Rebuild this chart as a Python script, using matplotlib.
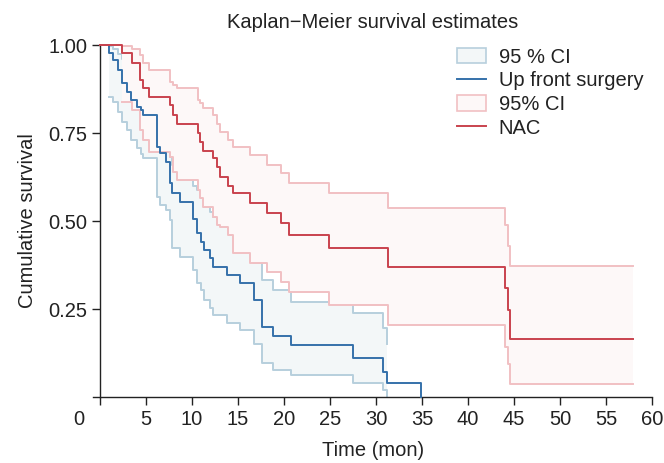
import matplotlib.pyplot as plt
from matplotlib.patches import Patch
from matplotlib.lines import Line2D
from matplotlib.transforms import ScaledTranslation

plt.rcParams['font.family'] = ['Liberation Sans', 'DejaVu Sans']

# Up front surgery: event times, estimate and 95% CI
uf_t = [1.0, 1.4, 2.0, 2.4, 2.9, 3.4, 4.0, 4.5, 4.7, 6.2, 6.5, 7.2, 7.6, 7.8, 8.7,
        10.1, 10.5, 11.0, 11.3, 12.0, 12.3, 13.8, 15.2, 16.7, 17.6, 18.8, 20.8,
        27.5, 30.8, 31.2]
uf_s = [0.976, 0.957, 0.929, 0.891, 0.867, 0.844, 0.825, 0.815, 0.801, 0.711,
        0.693, 0.668, 0.608, 0.579, 0.555, 0.507, 0.465, 0.441, 0.418, 0.394,
        0.370, 0.347, 0.323, 0.276, 0.200, 0.173, 0.148, 0.110, 0.072, 0.039]
uf_lo = [0.853, 0.839, 0.810, 0.782, 0.759, 0.730, 0.706, 0.690, 0.678, 0.567,
         0.545, 0.531, 0.503, 0.422, 0.399, 0.361, 0.323, 0.304, 0.276, 0.252,
         0.233, 0.209, 0.190, 0.152, 0.096, 0.077, 0.0625, 0.039, 0.020, 0.0]
uf_hi = [0.998, 0.990, 0.975, 0.960, 0.950, 0.945, 0.930, 0.900, 0.877, 0.853,
         0.853, 0.853, 0.683, 0.660, 0.616, 0.600, 0.588, 0.565, 0.541, 0.525,
         0.512, 0.488, 0.460, 0.380, 0.332, 0.304, 0.271, 0.238, 0.195, 0.152]
uf_end = 34.9

# NAC: event times, estimate and 95% CI
nac_t = [2.43, 3.44, 4.35, 4.71, 5.36, 7.6, 7.9, 8.4, 10.7, 10.9, 11.2, 12.3, 12.7,
         13.0, 13.9, 14.5, 16.3, 18.1, 19.7, 20.5, 24.9, 31.3, 44.0, 44.3, 44.6]
nac_s = [0.976, 0.950, 0.900, 0.877, 0.853, 0.830, 0.801, 0.777, 0.749, 0.725,
         0.699, 0.678, 0.654, 0.626, 0.600, 0.579, 0.550, 0.522, 0.493, 0.460,
         0.422, 0.370, 0.309, 0.247, 0.165]
nac_lo = [0.839, 0.815, 0.759, 0.730, 0.697, 0.683, 0.640, 0.616, 0.588, 0.565,
          0.541, 0.512, 0.490, 0.484, 0.460, 0.408, 0.380, 0.356, 0.328, 0.299,
          0.261, 0.205, 0.143, 0.094, 0.037]
nac_hi = [0.997, 0.990, 0.972, 0.948, 0.929, 0.896, 0.885, 0.877, 0.844, 0.835,
          0.820, 0.801, 0.777, 0.754, 0.730, 0.711, 0.688, 0.659, 0.635, 0.607,
          0.579, 0.536, 0.490, 0.430, 0.372]
nac_end = 57.9

x_ticks = list(range(0, 61, 5))
y_ticks = [0.25, 0.50, 0.75, 1.00]

blue = '#3571aa'
blue_ci = '#b7cfdd'
blue_fill = '#f3f7f8'
red = '#c9434e'
red_ci = '#f1c0c3'
red_fill = '#fdf8f8'
fs = 14.5

fig = plt.figure(figsize=(6.64, 4.63), dpi=100)
ax = fig.add_axes([0.1402, 0.1425, 0.8418, 0.7603])

# confidence bands
ax.fill_between(uf_t, uf_lo, uf_hi, step='post', color=blue_fill, lw=0, zorder=1)
ax.step(uf_t, uf_lo, where='post', color=blue_ci, lw=1.4, zorder=2)
ax.step(uf_t, uf_hi, where='post', color=blue_ci, lw=1.4, zorder=2)

rt = nac_t + [nac_end]
ax.fill_between(rt, nac_lo + nac_lo[-1:], nac_hi + nac_hi[-1:], step='post',
                color=red_fill, lw=0, zorder=3)
ax.step(rt, nac_lo + nac_lo[-1:], where='post', color=red_ci, lw=1.4, zorder=4)
ax.step(rt, nac_hi + nac_hi[-1:], where='post', color=red_ci, lw=1.4, zorder=4)

# survival estimates
ax.step([0] + uf_t + [uf_end], [1.0] + uf_s + [0.0], where='post',
        color=blue, lw=1.4, zorder=5, clip_on=False)
ax.step([0] + rt, [1.0] + nac_s + nac_s[-1:], where='post',
        color=red, lw=1.4, zorder=6, clip_on=False)

ax.set_xlim(-0.75, 60)
ax.set_ylim(0, 1)
ax.spines['top'].set_visible(False)
ax.spines['right'].set_visible(False)
ax.spines['left'].set_position(('data', 0))
for sp in ('left', 'bottom'):
    ax.spines[sp].set_linewidth(1.0)
    ax.spines[sp].set_color('#222222')

ax.set_xticks(x_ticks)
ax.set_yticks(y_ticks)
ax.set_yticklabels(['%.2f' % v for v in y_ticks])
ax.tick_params(axis='both', labelsize=fs, length=6, width=1.0, color='#222222',
               labelcolor='#222222', pad=3)
# Stata pushes the 0 label to the left of the axis
lab0 = ax.get_xticklabels()[0]
lab0.set_transform(lab0.get_transform() + ScaledTranslation(-0.21, 0, fig.dpi_scale_trans))

ax.set_xlabel('Time (mon)', fontsize=fs, color='#222222', labelpad=9)
ax.set_ylabel('Cumulative survival', fontsize=fs, color='#222222', labelpad=8)
ax.set_title('Kaplan\u2212Meier survival estimates', fontsize=fs, color='#222222', pad=12)

handles = [Patch(facecolor=blue_fill, edgecolor=blue_ci, lw=1.2),
           Line2D([], [], color=blue, lw=1.4),
           Patch(facecolor=red_fill, edgecolor=red_ci, lw=1.2),
           Line2D([], [], color=red, lw=1.4)]
labels = ['95 % CI', 'Up front surgery', '95% CI', 'NAC']
ax.legend(handles, labels, loc='upper left', bbox_to_anchor=(0.689, 0.897),
          bbox_transform=fig.transFigure, frameon=False, fontsize=fs,
          borderpad=0, borderaxespad=0, labelspacing=0.23, handlelength=1.4,
          handleheight=0.78, handletextpad=0.65, labelcolor='#222222')

fig.savefig('out.png', dpi=100)
